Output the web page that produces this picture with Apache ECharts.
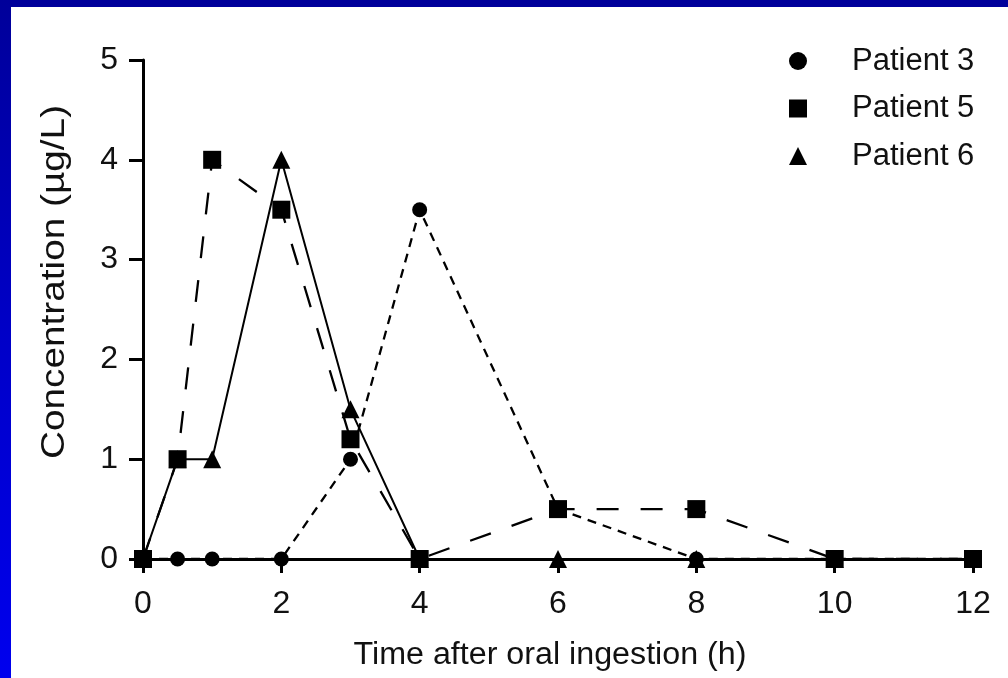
<!DOCTYPE html>
<html><head><meta charset="utf-8">
<script src="https://cdn.jsdelivr.net/npm/echarts@6/dist/echarts.min.js"></script>
<style>
html,body{margin:0;padding:0;}
body{width:1008px;height:678px;background:linear-gradient(to bottom,#00009a 0%,#0000c8 50%,#0000ee 100%);position:relative;overflow:hidden;}
#frame{position:absolute;left:11px;top:7px;right:0;bottom:0;background:#fff;}
#chart{position:absolute;left:0;top:0;width:1008px;height:678px;}
</style></head>
<body><div id="frame"></div><div id="chart"></div>
<script>
var times3 = [0, 0.5, 1, 2, 3, 4, 6, 8, 10, 12];
var patient3 = [0, 0, 0, 0, 1, 3.5, 0.5, 0, 0, 0];
var times5 = [0, 0.5, 1, 2, 3, 4, 6, 8, 10, 12];
var patient5 = [0, 1, 4, 3.5, 1.2, 0, 0.5, 0.5, 0, 0];
var times6 = [0, 0.5, 1, 2, 3, 4, 6, 8, 10, 12];
var patient6 = [0, 1, 1, 4, 1.5, 0, 0, 0, 0, 0];
var seriesNames = ['Patient 3', 'Patient 5', 'Patient 6'];
var xTicks = [0, 2, 4, 6, 8, 10, 12];
var yTicks = [0, 1, 2, 3, 4, 5];

function pairs(xs, ys){ return xs.map(function(x,i){ return [x, ys[i]]; }); }

var FONT = '"Liberation Sans", Arial, Helvetica, sans-serif';
var chart = echarts.init(document.getElementById('chart'), null, {renderer:'canvas'});
chart.setOption({
  backgroundColor: 'transparent',
  animation: false,
  grid: {left:143, right:35, top:60, bottom:119, containLabel:false},
  xAxis: {
    type:'value', min:0, max:12, interval:2,
    axisLine:{show:true, onZero:false, lineStyle:{color:'#000', width:3}},
    axisTick:{show:true, inside:false, length:14, lineStyle:{color:'#000', width:3}},
    axisLabel:{show:true, margin:29, color:'#111', fontSize:32, fontFamily:FONT},
    splitLine:{show:false}
  },
  yAxis: {
    type:'value', min:0, max:5, interval:1,
    axisLine:{show:true, onZero:false, lineStyle:{color:'#000', width:3}},
    axisTick:{show:true, inside:false, length:14, lineStyle:{color:'#000', width:3}},
    axisLabel:{show:true, margin:25, color:'#111', fontSize:32, fontFamily:FONT},
    splitLine:{show:false}
  },
  legend: {
    orient:'vertical', left:784, top:39,
    itemWidth:18, itemHeight:18, itemGap:13.5,
    textStyle:{color:'#111', fontSize:31, fontFamily:FONT, lineHeight:34, padding:[0,0,0,40]},
    data:[
      {name:seriesNames[0], icon:'circle'},
      {name:seriesNames[1], icon:'rect'},
      {name:seriesNames[2], icon:'triangle'}
    ]
  },
  graphic: [
    {type:'text', x:550, y:655, scaleX:1.04, style:{text:'Time after oral ingestion (h)', fill:'#111', font:'31px ' + FONT, textAlign:'center', textVerticalAlign:'middle'}},
    {type:'text', x:55, y:282, rotation:Math.PI/2, scaleX:1.14, style:{text:'Concentration (\u00b5g/L)', fill:'#111', font:'34px ' + FONT, textAlign:'center', textVerticalAlign:'middle'}}
  ],
  series: [
    {name:seriesNames[0], type:'line', data:pairs(times3, patient3), symbol:'circle', symbolSize:15,
     itemStyle:{color:'#000'}, lineStyle:{color:'#000', width:2.3, type:[9,7]}, z:3},
    {name:seriesNames[1], type:'line', data:pairs(times5, patient5), symbol:'rect', symbolSize:18,
     itemStyle:{color:'#000'}, lineStyle:{color:'#000', width:2.3, type:[22,22]}, z:4},
    {name:seriesNames[2], type:'line', data:pairs(times6, patient6), symbol:'triangle', symbolSize:18,
     itemStyle:{color:'#000'}, lineStyle:{color:'#000', width:2, type:'solid'}, z:5}
  ]
});
</script></body></html>
